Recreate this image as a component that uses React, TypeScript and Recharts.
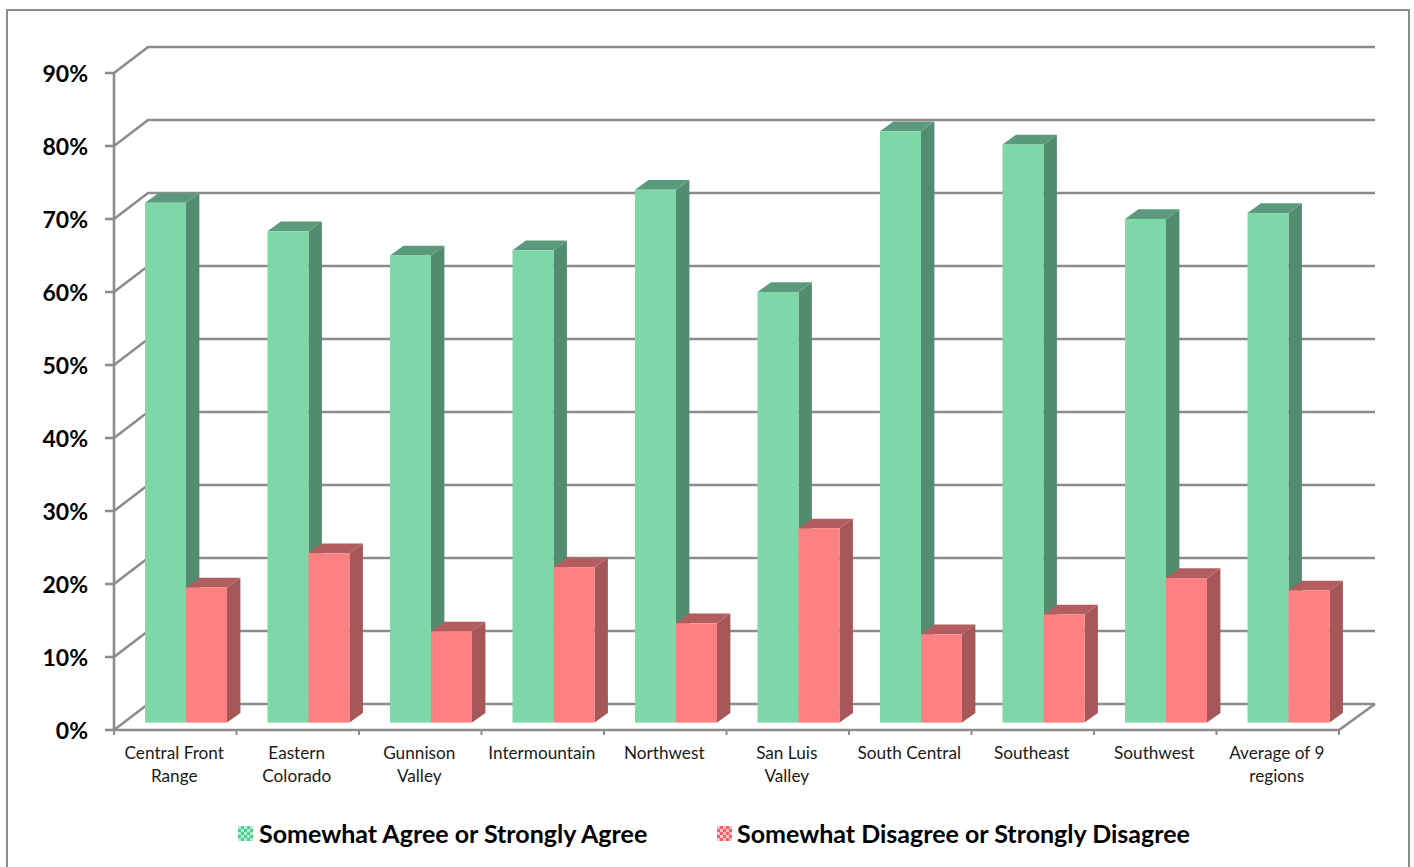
import React from "react";
import { BarChart, Bar, XAxis, YAxis, CartesianGrid, Legend } from "recharts";

const categoryLines: string[][] = [
  ["Central Front", "Range"],
  ["Eastern", "Colorado"],
  ["Gunnison", "Valley"],
  ["Intermountain"],
  ["Northwest"],
  ["San Luis", "Valley"],
  ["South Central"],
  ["Southeast"],
  ["Southwest"],
  ["Average of 9", "regions"],
];
const agreeValues = [71.2, 67.3, 64.0, 64.7, 73.0, 59.0, 81.0, 79.2, 69.0, 69.8];
const disagreeValues = [18.5, 23.2, 12.5, 21.3, 13.6, 26.6, 12.1, 14.8, 19.8, 18.1];
const yTicks = [0, 10, 20, 30, 40, 50, 60, 70, 80, 90];
const AGREE_NAME = "Somewhat Agree or Strongly Agree";
const DISAGREE_NAME = "Somewhat Disagree or Strongly Disagree";

const data = categoryLines.map((lines, i) => ({
  name: lines.join(" "),
  agree: agreeValues[i],
  disagree: disagreeValues[i],
}));

const W = 1414;
const H = 867;
const M = { top: 73, right: 75, bottom: 0, left: 0 };
const AXIS_W = 114;
const PLOT_W = W - AXIS_W - M.right;
const STEP = PLOT_W / categoryLines.length;
const GRID = "#8c8c8c";
const FONT = "Lato, 'Open Sans', sans-serif";

const BACK_X = 34;
const BACK_Y = -26;
const BAR_SHIFT_X = 11;
const BAR_SHIFT_Y = -7.4;
const DEPTH_X = 13.4;
const DEPTH_Y = -9.7;

function Patterns() {
  const check = (id: string, a: string, b: string, s: number) => (
    <pattern id={id} width={s * 2} height={s * 2} patternUnits="userSpaceOnUse">
      <rect width={s * 2} height={s * 2} fill={a} />
      <rect width={s} height={s} fill={b} />
      <rect x={s} y={s} width={s} height={s} fill={b} />
    </pattern>
  );
  return (
    <svg width={0} height={0} style={{ position: "absolute" }}>
      <defs>
        {check("gFront", "#78d5a4", "#84d9ac", 1)}
        {check("gSide", "#4d886a", "#569173", 1)}
        {check("gTop", "#56977a", "#5f9d7e", 1)}
        {check("rFront", "#ff7a7c", "#ff8788", 1)}
        {check("rSide", "#a04f51", "#ac5e60", 1)}
        {check("rTop", "#ad5759", "#b66466", 1)}
        {check("gSwatch", "#4bd08e", "#b4eed1", 3)}
        {check("rSwatch", "#f4606a", "#ffc2c4", 3)}
      </defs>
    </svg>
  );
}

function Bar3D(props: any) {
  const { x, y, width, height, kind } = props;
  const fx = x + BAR_SHIFT_X;
  const fy = y + BAR_SHIFT_Y;
  const r = fx + width;
  const b = fy + height;
  const p = kind === "agree" ? "g" : "r";
  return (
    <g>
      <polygon
        points={`${r},${fy} ${r + DEPTH_X},${fy + DEPTH_Y} ${r + DEPTH_X},${b + DEPTH_Y} ${r},${b}`}
        fill={`url(#${p}Side)`}
      />
      <polygon
        points={`${fx},${fy} ${fx + DEPTH_X},${fy + DEPTH_Y} ${r + DEPTH_X},${fy + DEPTH_Y} ${r},${fy}`}
        fill={`url(#${p}Top)`}
      />
      <rect x={fx} y={fy} width={width} height={height} fill={`url(#${p}Front)`} />
    </g>
  );
}

function GridLine(props: any) {
  const { x1, x2, y1 } = props;
  const isFloor = Math.abs(y1 - 730) < 1;
  return (
    <g stroke={GRID} strokeWidth={2.6} fill="none">
      <polyline points={`${x1},${y1} ${x1 + BACK_X},${y1 + BACK_Y} ${x2 + 36},${y1 + BACK_Y}`} />
      {isFloor && <line x1={x2} y1={y1} x2={x2 + 36} y2={y1 + BACK_Y} />}
    </g>
  );
}

function CategoryTick(props: any) {
  const { x, y, index } = props;
  const lines = categoryLines[index] || [];
  const left = x - STEP / 2;
  const right = x + STEP / 2;
  return (
    <g>
      <line x1={left} y1={y - 8} x2={left} y2={y - 3} stroke={GRID} strokeWidth={2} />
      {index === categoryLines.length - 1 && (
        <line x1={right} y1={y - 8} x2={right} y2={y - 3} stroke={GRID} strokeWidth={2} />
      )}
      {lines.map((l, i) => (
        <text
          key={l}
          x={x - 1}
          y={y + 21 + i * 23}
          textAnchor="middle"
          fontFamily={FONT}
          fontSize={17.2}
          fill="#1a1a1a"
        >
          {l}
        </text>
      ))}
    </g>
  );
}

function LegendContent(props: any) {
  const items = props.payload || [];
  return (
    <div
      style={{
        position: "relative",
        height: 40,
        fontFamily: FONT,
        fontWeight: 700,
        fontSize: 25,
        color: "#000",
      }}
    >
      {items.map((it: any) => {
        const isAgree = it.value === AGREE_NAME;
        return (
          <div
            key={it.value}
            style={{
              position: "absolute",
              left: isAgree ? 238 : 717,
              top: 1,
              display: "flex",
              alignItems: "center",
              whiteSpace: "nowrap",
              lineHeight: "30px",
            }}
          >
            <svg width={15} height={15} style={{ marginRight: isAgree ? 6 : 5 }}>
              <rect width={15} height={15} fill={`url(#${isAgree ? "g" : "r"}Swatch)`} />
            </svg>
            {it.value}
          </div>
        );
      })}
    </div>
  );
}

export default function App() {
  return (
    <div
      style={{
        position: "absolute",
        left: 0,
        top: 0,
        width: W,
        height: H,
        overflow: "hidden",
        background: "#fff",
      }}
    >
      <div
        style={{
          position: "absolute",
          left: 6,
          top: 9,
          width: 1400,
          height: 900,
          border: `2px solid ${GRID}`,
        }}
      />
      <Patterns />
      <div style={{ position: "absolute", left: 0, top: 0 }}>
        <BarChart
          width={W}
          height={H}
          data={data}
          margin={M}
          barSize={41}
          barGap={0}
          style={{ background: "transparent" }}
        >
          <CartesianGrid vertical={false} horizontal={(p: any) => <GridLine {...p} />} />
          <XAxis
            dataKey="name"
            height={87}
            interval={0}
            axisLine={{ stroke: GRID, strokeWidth: 2.6 }}
            tickLine={false}
            tick={(p: any) => <CategoryTick {...p} />}
          />
          <YAxis
            width={AXIS_W}
            domain={[0, 90]}
            ticks={yTicks}
            interval={0}
            tickFormatter={(v: number) => `${v}%`}
            axisLine={{ stroke: GRID, strokeWidth: 2.6 }}
            tickLine={{ stroke: GRID, strokeWidth: 2.6 }}
            tickSize={9}
            tickMargin={17}
            dy={1}
            tick={{ fontFamily: FONT, fontWeight: 700, fontSize: 23, fill: "#000", dy: 1 }}
          />
          <Legend
            verticalAlign="bottom"
            height={50}
            content={<LegendContent />}
            wrapperStyle={{ left: 0, width: W, bottom: 0 }}
          />
          <Bar
            dataKey="agree"
            name={AGREE_NAME}
            fill="#7bd6a7"
            isAnimationActive={false}
            shape={(p: any) => <Bar3D {...p} kind="agree" />}
          />
          <Bar
            dataKey="disagree"
            name={DISAGREE_NAME}
            fill="#ff7c7e"
            isAnimationActive={false}
            shape={(p: any) => <Bar3D {...p} kind="disagree" />}
          />
        </BarChart>
      </div>
    </div>
  );
}
